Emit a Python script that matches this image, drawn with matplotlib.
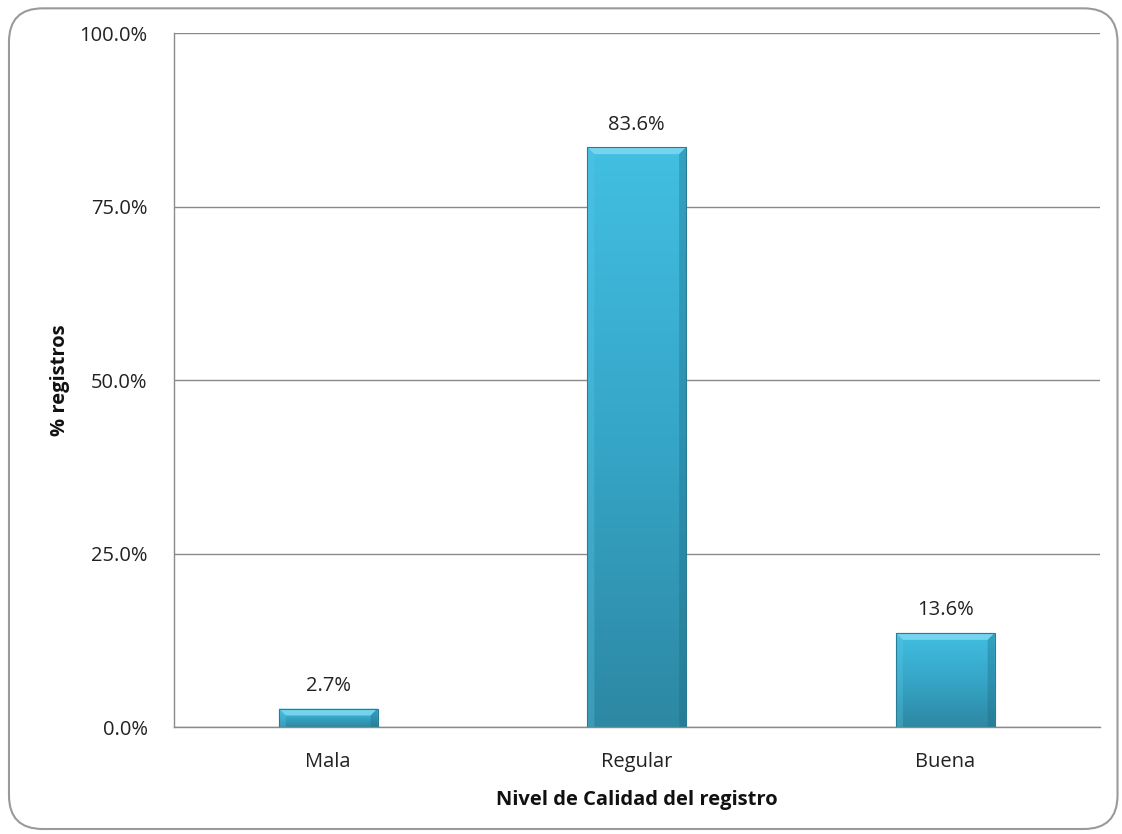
import numpy as np
import matplotlib
matplotlib.use("Agg")
import matplotlib.pyplot as plt
from matplotlib.patches import FancyBboxPatch, Polygon
from matplotlib.colors import LinearSegmentedColormap

categories = ["Mala", "Regular", "Buena"]
values = [2.7, 83.6, 13.6]
yticks = [0, 25, 50, 75, 100]
ytick_labels = ["0.0%", "25.0%", "50.0%", "75.0%", "100.0%"]
xlabel = "Nivel de Calidad del registro"
ylabel = "% registros"

plt.rcParams['font.family'] = ['Open Sans', 'DejaVu Sans']
FS = 14.5

fig = plt.figure(figsize=(11.22, 8.34), dpi=100)
ax = fig.add_axes([0.155, 0.128, 0.825, 0.832])

# rounded outer border
border = FancyBboxPatch((0.008, 0.006), 0.988, 0.984, boxstyle="round,pad=0,rounding_size=0.03",
                        transform=fig.transFigure, facecolor="none", edgecolor="#9a9a9a",
                        linewidth=1.5, mutation_aspect=1122/834)
fig.patches.append(border)

x = np.arange(len(categories))
bw = 0.32
bars = ax.bar(x, values, width=bw, color="none", edgecolor="#2a7c95", linewidth=0.8, zorder=3)

cmap = LinearSegmentedColormap.from_list("bar", ["#2d88a3", "#36a6c8", "#42bfe2"])
grad = np.linspace(0, 1, 256).reshape(-1, 1)
px_x = 3.0 / 926
px_y = 100.0 / 694
for b in bars:
    bx, by, w, h = b.get_x(), b.get_y(), b.get_width(), b.get_height()
    im = ax.imshow(grad, cmap=cmap, aspect="auto", origin="lower",
                   extent=[bx, bx + w, by, by + h], zorder=2)
    im.set_clip_path(b)
    bev_x = 7 * px_x
    bev_y = min(7 * px_y, h / 2)
    top = Polygon([[bx, by + h], [bx + w, by + h], [bx + w - bev_x, by + h - bev_y],
                   [bx + bev_x, by + h - bev_y]], closed=True, facecolor="#7fd9f2",
                  edgecolor="none", alpha=0.85, zorder=2.5)
    ax.add_patch(top)
    left = Polygon([[bx, by], [bx, by + h], [bx + bev_x, by + h - bev_y], [bx + bev_x, by]],
                   closed=True, facecolor="#5cc9e8", edgecolor="none", alpha=0.3, zorder=2.5)
    ax.add_patch(left)
    right = Polygon([[bx + w, by], [bx + w, by + h], [bx + w - bev_x, by + h - bev_y],
                     [bx + w - bev_x, by]], closed=True, facecolor="#1d6a82",
                    edgecolor="none", alpha=0.35, zorder=2.5)
    ax.add_patch(right)
    ax.annotate(f"{h:.1f}%", (bx + w / 2, by + h), xytext=(0, 9), textcoords="offset points",
                ha="center", va="bottom", fontsize=FS, color="#222222")

ax.set_xlim(-0.5, len(categories) - 0.5)
ax.set_ylim(0, 100)
ax.set_yticks(yticks)
ax.set_yticklabels(ytick_labels, fontsize=FS, color="#222222")
ax.set_xticks(x)
ax.set_xticklabels(categories, fontsize=FS, color="#222222")
ax.tick_params(axis="x", length=0, pad=18)
ax.tick_params(axis="y", length=0, pad=19)
ax.yaxis.grid(True, color="#8a8a8a", linewidth=1.0, zorder=0)
ax.set_axisbelow(True)
for s in ["top", "right"]:
    ax.spines[s].set_visible(False)
for s in ["left", "bottom"]:
    ax.spines[s].set_color("#8a8a8a")
    ax.spines[s].set_linewidth(1.0)

ax.set_xlabel(xlabel, fontsize=FS, fontweight="bold", labelpad=13, color="#111111")
ax.set_ylabel(ylabel, fontsize=FS, fontweight="bold", labelpad=7, color="#111111")

fig.savefig("out.png", dpi=100)
